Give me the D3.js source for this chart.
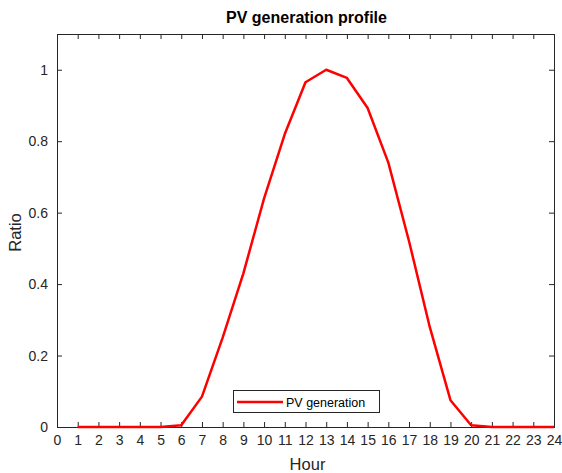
<!DOCTYPE html>
<html><head><meta charset="utf-8">
<script src="https://cdn.jsdelivr.net/npm/d3@7"></script>
<style>body{margin:0;background:#fff}svg{display:block}text{font-family:"Liberation Sans",Arial,sans-serif}</style>
</head><body><svg id="c" width="562" height="473"></svg>
<script>
const hours = [1,2,3,4,5,6,7,8,9,10,11,12,13,14,15,16,17,18,19,20,21,22,23,24];
const pvRatio = [0,0,0,0,0,0.005,0.085,0.25,0.43,0.64,0.82,0.965,1.0,0.977,0.893,0.74,0.52,0.28,0.075,0.005,0,0,0,0];
const xTicks = d3.range(0,25);
const yTicks = [0,0.2,0.4,0.6,0.8,1];
const svg = d3.select("#c");
const L=57,R=554,T=34,B=427;
const x = d3.scaleLinear().domain([0,24]).range([L,R]);
const y = d3.scaleLinear().domain([0,1.1]).range([B,T]);
const col="#262626";
svg.append("rect").attr("x",L).attr("y",T).attr("width",R-L).attr("height",B-T).attr("fill","#fff");
const gx=svg.append("g").attr("transform",`translate(0,${B})`).call(d3.axisBottom(x).tickValues(xTicks).tickSize(-5).tickPadding(8).tickFormat(d3.format("d")));
const gxt=svg.append("g").attr("transform",`translate(0,${T})`).call(d3.axisTop(x).tickValues(xTicks).tickSize(-5).tickFormat(""));
const gy=svg.append("g").attr("transform",`translate(${L},0)`).call(d3.axisLeft(y).tickValues(yTicks).tickSize(-5).tickPadding(9).tickFormat(d=>d3.format("")(d)));
const gyr=svg.append("g").attr("transform",`translate(${R},0)`).call(d3.axisRight(y).tickValues(yTicks).tickSize(-5).tickFormat(""));
[gx,gxt,gy,gyr].forEach(g=>{g.selectAll("path").attr("stroke",col).attr("stroke-width",1);g.selectAll("line").attr("stroke",col);g.selectAll("text").attr("fill",col).style("font-size","14px").style("font-family","'Liberation Sans',Arial,sans-serif");});
const line=d3.line().x((d,i)=>x(hours[i])).y(d=>y(d));
svg.append("path").datum(pvRatio).attr("d",line).attr("fill","none").attr("stroke","#ff0000").attr("stroke-width",2.5).attr("stroke-linejoin","round");
svg.append("text").attr("x",(L+R)/2+1).attr("y",23).attr("text-anchor","middle").attr("font-weight","bold").attr("font-size","16px").attr("fill","#000").text("PV generation profile");
svg.append("text").attr("x",(L+R)/2+2).attr("y",470).attr("text-anchor","middle").attr("font-size","16.5px").attr("fill",col).text("Hour");
svg.append("text").attr("transform",`translate(21,${(T+B)/2+2}) rotate(-90)`).attr("text-anchor","middle").attr("font-size","16.5px").attr("fill",col).text("Ratio");
const lg=svg.append("g");
lg.append("rect").attr("x",233.5).attr("y",390.5).attr("width",146).attr("height",22).attr("fill","#fff").attr("stroke",col).attr("stroke-width",1);
lg.append("line").attr("x1",237).attr("x2",283).attr("y1",402).attr("y2",402).attr("stroke","#ff0000").attr("stroke-width",2.5);
lg.append("text").attr("x",286).attr("y",406.5).attr("font-size","12.5px").attr("fill","#000").text("PV generation");
</script></body></html>
